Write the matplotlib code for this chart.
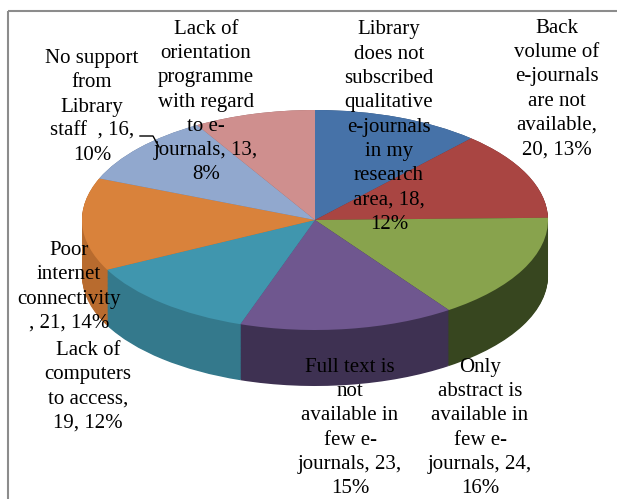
import matplotlib
matplotlib.use("Agg")
import matplotlib.pyplot as plt
from matplotlib.patches import Rectangle
import numpy as np

# problems with e-journal access, clockwise from 12 o'clock
categories = ["Library does not subscribed qualitative e-journals in my research area",
              "Back volume of e-journals are not available",
              "Only abstract is available in few e-journals",
              "Full text is not available in few e-journals",
              "Lack of computers to access",
              "Poor internet connectivity",
              "No support from Library staff",
              "Lack of orientation programme with regard to e-journals"]
counts = [18, 20, 24, 23, 19, 21, 16, 13]
percents = [12, 13, 16, 15, 12, 14, 10, 8]

# label text as wrapped in the original chart
label_texts = ["Library\ndoes not\nsubscribed\nqualitative\ne-journals\nin my\nresearch\narea, 18,\n12%",
               "Back\nvolume of\ne-journals\nare not\navailable,\n20, 13%",
               "Only\nabstract is\navailable in\nfew e-\njournals, 24,\n16%",
               "Full text is\nnot\navailable in\nfew e-\njournals, 23,\n15%",
               "Lack of\ncomputers\nto access,\n19, 12%",
               "Poor\ninternet\nconnectivity\n, 21, 14%",
               "No support\nfrom\nLibrary\nstaff  , 16,\n10%",
               "Lack of\norientation\nprogramme\nwith regard\nto e-\njournals, 13,\n8%"]
label_pos = [(389, 127), (557, 89), (480, 428), (350, 428),
             (88, 387), (69, 287), (92, 107), (206, 102)]

top_colors = ["#4672a8", "#a94542", "#88a34d", "#6f578f",
              "#4096ae", "#d9823b", "#91a8ce", "#cf8f8e"]
side_colors = ["#2f4d70", "#6e2c2a", "#37461f", "#3e3152",
               "#34798c", "#b86b2e", "#5f7391", "#8f5e5d"]

W, H = 617, 499
cx, cy = 315, 220      # pie centre in pixels
rx, ry = 233, 110      # ellipse half axes in pixels
depth = 56             # thickness in pixels

fig = plt.figure(figsize=(W / 100, H / 100), dpi=100)
ax = fig.add_axes([0, 0, 1, 1])

# side wall: stack of darker pies shifted down
d = depth / ry
for off in np.linspace(d, 0, 70):
    ax.pie(counts, colors=side_colors, startangle=90, counterclock=False,
           radius=1, center=(0, -off), wedgeprops=dict(linewidth=0))
ax.pie(counts, colors=top_colors, startangle=90, counterclock=False,
       radius=1, center=(0, 0), wedgeprops=dict(linewidth=0))

ax.set_aspect("auto")
ax.set_xlim((0 - cx) / rx, (W - cx) / rx)
ax.set_ylim((cy - H) / ry, cy / ry)
ax.axis("off")

# overlay in pixel coordinates for frame and labels
ax2 = fig.add_axes([0, 0, 1, 1])
ax2.set_xlim(0, W)
ax2.set_ylim(H, 0)
ax2.axis("off")
ax2.patch.set_alpha(0)

ax2.add_patch(Rectangle((8, 11), 700, 600, fill=False, edgecolor="#8c8c8c",
                        linewidth=1.5, clip_on=False))

for txt, (x, y) in zip(label_texts, label_pos):
    ax2.text(x, y, txt, ha="center", va="center", multialignment="center",
             fontsize=15, family="Liberation Serif", linespacing=1.38, color="black")

# leader line for the small slice
ax2.plot([140, 153, 159], [136, 136, 147], color="black", linewidth=1)

fig.savefig("out.png", dpi=100)
